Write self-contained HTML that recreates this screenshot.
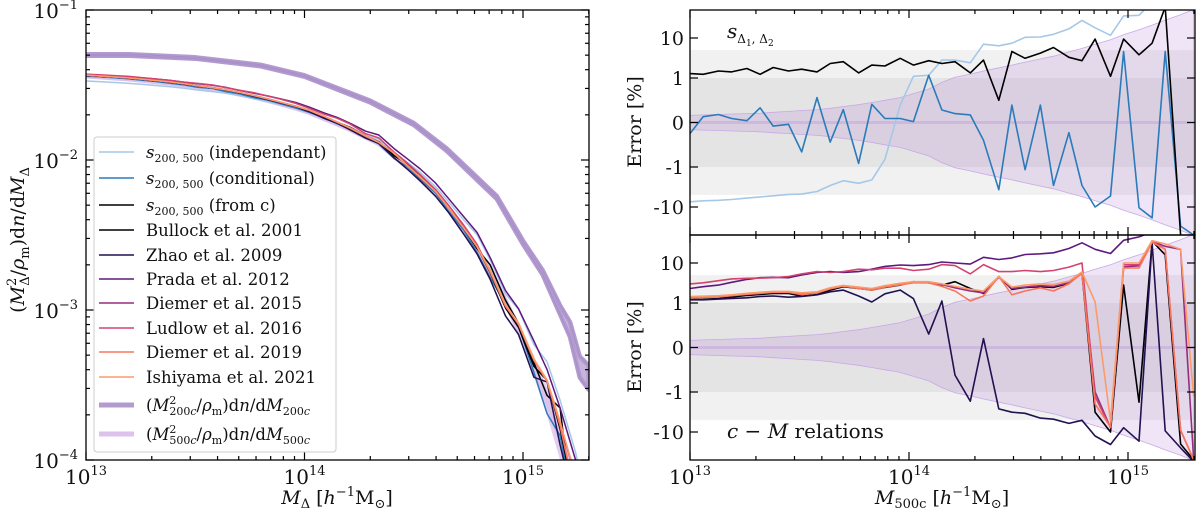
<!DOCTYPE html>
<html><head><meta charset="utf-8"><style>
html,body{margin:0;padding:0;background:#fff;overflow:hidden;width:1200px;height:512px;}
svg{display:block;font-family:"DejaVu Serif","Liberation Serif",serif;overflow:hidden;}
</style></head><body>
<svg id="chart" width="1200" height="512" xmlns="http://www.w3.org/2000/svg">
<defs>
<clipPath id="clipL"><rect x="86" y="10" width="503" height="450"/></clipPath>
<clipPath id="clipT"><rect x="690" y="10" width="505" height="225"/></clipPath>
<clipPath id="clipB"><rect x="690" y="235" width="505" height="225"/></clipPath>
</defs>
<g id="gL" clip-path="url(#clipL)"></g>
<g id="gT" clip-path="url(#clipT)"></g>
<g id="gB" clip-path="url(#clipB)"></g>
<g id="axes"></g>
</svg>
<script>
// ---- data ----
const grid=[13.00,13.06,13.13,13.19,13.26,13.32,13.38,13.45,13.51,13.58,13.64,13.70,13.77,13.83,13.89,13.96,14.02,14.09,14.15,14.21,14.28,14.34,14.41,14.47,14.53,14.60,14.66,14.73,14.79,14.85,14.92,14.98,15.05,15.11,15.17,15.24,15.30];
const sInd=[-7.4,-7.0,-6.8,-6.5,-6.0,-5.6,-5.25,-4.85,-4.75,-4.1,-2.9,-2.2,-2.55,-2.1,-0.83,0.39,1.1,1.17,2.8,2.8,2.4,7.0,6.4,7.4,10.4,10.6,12.4,16.9,27.6,18,11.7,35.6,37,80,80,80,45];
const sCond=[-0.25,0.13,0.18,0.09,0.04,0.33,-0.08,-0.04,-0.66,0.56,-0.44,0.29,-0.92,0.41,0.09,0.09,0.02,1.17,0.28,0.2,0.17,-0.4,-3.7,0.39,-1.17,0.39,-2.9,-0.23,-2.9,-10,-5.3,4.6,-10.4,-18.7,4.6,-30,-50];
const sFromC=[1.29,1.24,1.5,1.42,1.73,1.24,1.83,1.5,1.66,1.42,2.3,2.55,1.34,2.1,2.0,3.1,2.1,2.7,2.3,2.55,1.34,2.8,0.5,4.6,3.1,4.2,5.8,3.3,2.7,9.4,1.1,9.4,3.8,7.4,60,-50,-60];
const bullock=[1.22,1.24,1.29,1.42,1.55,1.64,1.73,1.73,1.48,1.63,2.1,2.55,2.3,2.1,2.45,2.8,3.4,3.2,2.8,3.4,2.3,1.73,4.6,2.2,2.45,2.55,2.45,3.1,5.6,-3.2,-10,2.8,-1.8,35,16,-20,-50];
const zhao=[1.2,1.2,1.25,1.3,1.35,1.45,1.5,1.4,1.45,1.6,1.9,2.1,1.5,1.06,1.7,2.1,1.29,0.3,1.12,-0.62,-1.7,0.2,-2.65,-3.2,-3.4,-4.5,-4.8,-6.1,-5.1,-12.6,-20.5,-7.8,-17,32,-9.4,-25,-55];
const prada=[2.3,2.55,2.8,3.3,3.9,4.3,4.4,4.3,5.0,5.8,6.1,5.8,6.1,7.0,8.2,8.9,8.6,9.1,10.6,10,9.4,13.9,12.2,13.4,16.3,17,18,23,32,22,17.3,37,45,60,60,60,60];
const diemer15=[1.4,1.42,1.45,1.55,1.7,1.8,1.9,1.9,1.7,1.8,2.3,2.7,2.4,2.2,2.6,3.0,3.3,3.3,2.9,2.4,2.0,1.8,4.4,2.3,2.5,2.7,2.6,3.2,5.8,-1.0,-7.8,8,8.5,35,26,22,-50];
const ludlow=[3.0,3.2,3.6,4.0,4.15,4.2,4.3,4.6,5.35,6.1,5.8,6.1,7.0,6.75,7.4,7.4,6.5,7,9.1,8.6,5.35,9.1,6.1,6.1,6.5,6.1,6.5,7.9,10,-1.3,-7.8,9,9,35,22,-9,-50];
const diemer19=[1.35,1.38,1.42,1.52,1.65,1.75,1.85,1.85,1.62,1.78,2.25,2.65,2.3,2.1,2.5,2.85,3.2,3.2,2.6,2.0,1.12,1.5,4.6,1.6,2.0,2.4,2.0,3.0,5.6,-2.0,-7.5,7.5,7.5,33,22,-9,-50];
const ishiyama=[1.45,1.48,1.52,1.6,1.75,1.85,1.95,1.95,1.8,1.9,2.4,2.75,2.5,2.3,2.7,3.1,3.4,3.4,3.0,2.6,2.2,2.0,4.6,2.5,2.8,3.0,2.9,3.5,6.0,1.06,-5.3,10,10,36,30,22,-1.3];
const envelope=[0.16,0.17,0.18,0.19,0.2,0.21,0.23,0.25,0.27,0.29,0.32,0.36,0.4,0.45,0.5,0.56,0.65,0.75,0.9,1.05,1.25,1.5,1.8,2.1,2.5,3.0,3.5,4.5,5.5,7,9,12,16,21,28,38,52];
const baseMass=[13.0,13.2,13.4,13.6,13.8,14.0,14.2,14.34,14.49,14.62,14.73,14.86,14.94,15.03,15.11,15.18,15.22,15.3];
const baseLog=[-1.44,-1.46,-1.49,-1.53,-1.59,-1.67,-1.79,-1.89,-2.07,-2.25,-2.47,-2.76,-3.0,-3.29,-3.6,-3.9,-4.1,-4.5];
const m200Mass=[13.0,13.2,13.5,13.8,14.0,14.3,14.5,14.65,14.88,15.0,15.09,15.17,15.215,15.26,15.3];
const m200Log=[-1.30,-1.30,-1.32,-1.37,-1.44,-1.61,-1.76,-1.93,-2.25,-2.55,-2.75,-3.0,-3.13,-3.38,-3.45];
const m200Spread=[0.005,0.005,0.005,0.005,0.005,0.006,0.007,0.008,0.01,0.012,0.015,0.03,0.05,0.07,0.08];
const yTicksL=["-1","-2","-3","-4"];
const xTickExp=["13","14","15"];
const symTicks=[10,1,0,-1,-10];
const symLabels=["10","1","0","-1","-10"];

// ---- scales ----
const NS="http://www.w3.org/2000/svg";
const xL=m=>86+(m-13)*218.5;
const xR=m=>690+(m-13)*219;
const yL=lv=>10+(-1-lv)*150;
function sym(v){const a=Math.abs(v);const d=a<=1?a*44.5:44.5+40*Math.log10(a);return v<0?-d:d;}
const yT=v=>122.5-sym(v);
const yB=v=>347.5-sym(v);
function interp(xs,ys,x){let i=0;while(i<xs.length-2&&x>xs[i+1])i++;const t=(x-xs[i])/(xs[i+1]-xs[i]);return ys[i]+t*(ys[i+1]-ys[i]);}
function mk(tag,attrs,parent){const e=document.createElementNS(NS,tag);for(const k in attrs)e.setAttribute(k,attrs[k]);(parent||document.getElementById('axes')).appendChild(e);return e;}
const gL=document.getElementById('gL'),gT=document.getElementById('gT'),gB=document.getElementById('gB');
function pathStr(pts){return pts.map((p,i)=>(i?'L':'M')+p[0].toFixed(1)+' '+p[1].toFixed(1)).join('');}

// ---- left panel ----
const baseOnGrid=grid.map(m=>interp(baseMass,baseLog,m));
const mu=m200Mass.map((m,i)=>[xL(m),yL(m200Log[i]+m200Spread[i])]);
const ml=m200Mass.map((m,i)=>[xL(m),yL(m200Log[i]-m200Spread[i])]).reverse();
let e=mk('path',{d:pathStr(mu.concat(ml))+'Z',fill:'#b39bd0','fill-opacity':0.75,stroke:'#b39bd0','stroke-width':4.5,'stroke-linejoin':'round'},gL);


e=mk('path',{d:pathStr(mu),fill:'none',stroke:'#a88ec8','stroke-width':1},gL);


e=mk('path',{d:pathStr(ml.slice().reverse()),fill:'none',stroke:'#a88ec8','stroke-width':1},gL);


const up=grid.map((m,i)=>[xL(m),yL(baseOnGrid[i]+Math.log10(1+envelope[i]/100))]);
const lo=grid.map((m,i)=>[xL(m),yL(baseOnGrid[i]+Math.log10(Math.max(0.05,1-envelope[i]/100)))]).reverse();
e=mk('path',{d:pathStr(up.concat(lo))+'Z',fill:'#c9a8e6','fill-opacity':0.55,stroke:'none'},gL);


e=mk('path',{d:pathStr(grid.map((m,i)=>[xL(m),yL(baseOnGrid[i])])),fill:'none',stroke:'#dcc3ec','stroke-width':5},gL);



const series=[
 {n:'s-independent',lab:'independant',d:sInd,c:'#a6c8e8',p:'T'},
 {n:'s-conditional',lab:'conditional',d:sCond,c:'#2b7bba',p:'T'},
 {n:'s-from-c',lab:'from c',d:sFromC,c:'#000000',p:'T'},
 {n:'bullock-2001',lab:'Bullock et al. 2001',d:bullock,c:'#000004',p:'B'},
 {n:'zhao-2009',lab:'Zhao et al. 2009',d:zhao,c:'#221150',p:'B'},
 {n:'prada-2012',lab:'Prada et al. 2012',d:prada,c:'#5f187f',p:'B'},
 {n:'diemer-2015',lab:'Diemer et al. 2015',d:diemer15,c:'#982d80',p:'B'},
 {n:'ludlow-2016',lab:'Ludlow et al. 2016',d:ludlow,c:'#d3436e',p:'B'},
 {n:'diemer-2019',lab:'Diemer et al. 2019',d:diemer19,c:'#f8765c',p:'B'},
 {n:'ishiyama-2021',lab:'Ishiyama et al. 2021',d:ishiyama,c:'#fb9b6b',p:'B'}
];
series.forEach(s=>{
  const pts=grid.map((m,i)=>[xL(m),yL(baseOnGrid[i]+Math.log10(Math.max(0.01,1+s.d[i]/100)))]);
  const el=mk('path',{d:pathStr(pts),fill:'none',stroke:s.c,'stroke-width':1.5,'stroke-linejoin':'round'},gL);
  
  
});

// ---- right panels ----
[[gT,yT,'top'],[gB,yB,'bottom']].forEach(([g,ys,nm])=>{
  let r=mk('rect',{x:690,y:ys(5),width:505,height:ys(-5)-ys(5),fill:'#f1f1f1'},g);
  
  
  r=mk('rect',{x:690,y:ys(1),width:505,height:ys(-1)-ys(1),fill:'#e4e4e4'},g);
  
  
  const u=grid.map((m,i)=>[xR(m),ys(envelope[i])]);
  const l=grid.map((m,i)=>[xR(m),ys(-envelope[i])]).reverse();
  r=mk('path',{d:pathStr(u.concat(l))+'Z',fill:'#b07fd8','fill-opacity':0.2,stroke:'#c9a8e6','stroke-width':0.8},g);
  
  
  r=mk('line',{x1:690,x2:1195,y1:ys(0),y2:ys(0),stroke:'#c7a9dc','stroke-width':3,'stroke-opacity':0.6},g);
  
  
});
series.forEach(s=>{
  const g=s.p==='T'?gT:gB,ys=s.p==='T'?yT:yB;
  const el=mk('path',{d:pathStr(grid.map((m,i)=>[xR(m),ys(s.d[i])])),fill:'none',stroke:s.c,'stroke-width':1.6,'stroke-linejoin':'round'},g);
  
  
});

// ---- axes ----
function frame(x,y,w,h,nm){const r=mk('rect',{x:x,y:y,width:w,height:h,fill:'none',stroke:'#000','stroke-width':1.3});}
frame(86,10,503,450,'left-plot-frame');
frame(690,10,505,225,'top-right-plot-frame');
frame(690,235,505,225,'bottom-right-plot-frame');
function tick(x1,y1,x2,y2){mk('line',{x1:x1,y1:y1,x2:x2,y2:y2,stroke:'#000','stroke-width':1.2});}
function txt(x,y,html,anchor,size,nm,extra){const t=mk('text',Object.assign({x:x,y:y,'text-anchor':anchor||'middle','font-size':size||18,fill:'#111'},extra||{}));t.innerHTML=html;return t;}
function xticks(sc,top,bot,labels,nmPrefix){
  for(let d=13;d<=15;d++){
    for(let k=1;k<=9;k++){
      const m=d+Math.log10(k);if(m>15.302)break;
      const x=sc(m),L=k===1?8:4;
      tick(x,bot,x,bot-L);tick(x,top,x,top+L);
    }
    if(labels){txt(sc(d),484,'10<tspan font-size="13" dy="-9">'+xTickExp[d-13]+'</tspan>','middle',20,nmPrefix+'-x-tick-'+d);}
  }
}
xticks(xL,10,460,true,'left');
xticks(xR,10,235,false,'top');
xticks(xR,235,460,true,'bottom');
for(let d=-4;d<=-1;d++){
  for(let k=1;k<=9;k++){
    const lv=d+Math.log10(k);if(lv>-0.999&&k>1)break;
    const y=yL(lv),L=k===1?8:4;
    tick(86,y,86+L,y);tick(589,y,589-L,y);
  }
  txt(78,yL(d)+8,'10<tspan font-size="13" dy="-9">−'+yTicksL[-d-1].slice(1)+'</tspan>','end',20,'left-y-tick-'+(-d));
}
[[yT,'top'],[yB,'bottom']].forEach(([ys,nm])=>{
  symTicks.forEach((v,i)=>{
    const y=ys(v);tick(690,y,698,y);tick(1195,y,1187,y);
    txt(684,y+7,symLabels[i],'end',19,nm+'-y-tick-'+symLabels[i]);
  });
});
txt(337,504,'<tspan font-style="italic">M</tspan><tspan font-size="13" dy="4">Δ</tspan><tspan dy="-4"> [</tspan><tspan font-style="italic">h</tspan><tspan font-size="13" dy="-8">−1</tspan><tspan dy="8">M</tspan><tspan font-size="13" dy="4">⊙</tspan><tspan dy="-4">]</tspan>','middle',19,'left-x-axis-title');
txt(942,504,'<tspan font-style="italic">M</tspan><tspan font-size="13" dy="4">500c</tspan><tspan dy="-4"> [</tspan><tspan font-style="italic">h</tspan><tspan font-size="13" dy="-8">−1</tspan><tspan dy="8">M</tspan><tspan font-size="13" dy="4">⊙</tspan><tspan dy="-4">]</tspan>','middle',19,'right-x-axis-title');
txt(0,0,'(<tspan font-style="italic">M</tspan><tspan font-size="13" dy="-8">2</tspan><tspan font-size="13" dx="-8" dy="13">Δ</tspan><tspan dy="-5">/</tspan><tspan font-style="italic">ρ</tspan><tspan font-size="13" dy="5">m</tspan><tspan dy="-5">)d</tspan><tspan font-style="italic">n</tspan>/d<tspan font-style="italic">M</tspan><tspan font-size="13" dy="5">Δ</tspan>','middle',19,'left-y-axis-title',{transform:'translate(24,240) rotate(-90)'});
txt(0,0,'Error [%]','middle',19,'top-y-axis-title',{transform:'translate(641,122) rotate(-90)'});
txt(0,0,'Error [%]','middle',19,'bottom-y-axis-title',{transform:'translate(641,347) rotate(-90)'});
txt(727,38,'<tspan font-style="italic">s</tspan><tspan font-size="12" dy="5">Δ</tspan><tspan font-size="9" dy="3">1</tspan><tspan font-size="12" dy="-3">, Δ</tspan><tspan font-size="9" dy="3">2</tspan>','start',20,'top-panel-annotation');
txt(727,438,'<tspan font-style="italic">c</tspan> − <tspan font-style="italic">M</tspan> relations','start',20,'bottom-panel-annotation');

// ---- legend ----
const lg=mk('rect',{x:94,y:137,width:242,height:315,rx:3,fill:'#fff','fill-opacity':0.85,stroke:'#ccc','stroke-width':1});


const legYs=[152,178,205,230,255,279,303,328,352,377,405,434];
series.forEach((s,i)=>{
  const y=legYs[i];
  const l=mk('line',{x1:99,x2:134,y1:y,y2:y,stroke:s.c,'stroke-width':1.6});
  
  
  const lab=i<3?'<tspan font-style="italic">s</tspan><tspan font-size="11" dy="4">200, 500</tspan><tspan dy="-4"> ('+s.lab+')</tspan>':s.lab;
  txt(146,y+6,lab,'start',16.5,'legend-entry-'+s.n);
});
[['m200c','#b39bd0','200<tspan font-style="italic">c</tspan>'],['m500c','#dcc3ec','500<tspan font-style="italic">c</tspan>']].forEach((q,j)=>{
  const y=legYs[10+j];
  const l=mk('line',{x1:99,x2:134,y1:y,y2:y,stroke:q[1],'stroke-width':5});
  
  
  txt(146,y+6,'(<tspan font-style="italic">M</tspan><tspan font-size="11" dy="-7">2</tspan><tspan font-size="11" dx="-7" dy="11">'+q[2]+'</tspan><tspan dy="-4">/</tspan><tspan font-style="italic">ρ</tspan><tspan font-size="11" dy="4">m</tspan><tspan dy="-4">)d</tspan><tspan font-style="italic">n</tspan>/d<tspan font-style="italic">M</tspan><tspan font-size="11" dy="4">'+q[2]+'</tspan>','start',16.5,'legend-entry-'+q[0]);
});
</script>
</body></html>
